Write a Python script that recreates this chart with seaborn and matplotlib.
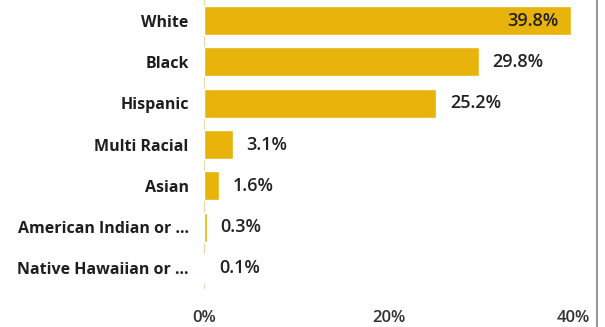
import matplotlib
matplotlib.use("Agg")
import matplotlib.pyplot as plt
import seaborn as sns
import pandas as pd

categories = ["White", "Black", "Hispanic", "Multi Racial", "Asian",
              "American Indian or ...", "Native Hawaiian or ..."]
values = [39.8, 29.8, 25.2, 3.1, 1.6, 0.3, 0.1]
value_labels = ["39.8%", "29.8%", "25.2%", "3.1%", "1.6%", "0.3%", "0.1%"]
x_ticks = [0, 20, 40]
x_tick_labels = ["0%", "20%", "40%"]

sns.set_theme(style="white")
plt.rcParams["font.family"] = ["Open Sans", "DejaVu Sans"]

df = pd.DataFrame({"cat": categories, "val": values})

fig = plt.figure(figsize=(6.05, 3.27), dpi=100)
ax = fig.add_axes([204/605, 1 - 289/327, (573-204)/605, 289/327])
sns.barplot(data=df, x="val", y="cat", orient="h", color="#E8B30A",
            saturation=1, width=0.7, ax=ax)
ax.set_xlim(0, 40)
ax.set_ylim(6.5, -0.5)
ax.set_xlabel("")
ax.set_ylabel("")
for s in ax.spines.values():
    s.set_visible(False)
ax.axvline(0, color="#E6D9B0", lw=1, zorder=0)

ax.set_xticks(x_ticks)
ax.set_xticklabels(x_tick_labels, fontsize=12, color="#333333", fontweight="semibold")
ax.tick_params(axis="x", length=0, pad=15)
ax.set_yticks(range(len(categories)))
ax.set_yticklabels(categories, fontsize=11.5, color="#1e1e1e", fontweight="bold")
ax.tick_params(axis="y", length=0, pad=11)

for i, (v, lab) in enumerate(zip(values, value_labels)):
    if v > 35:
        ax.text(v - 1.4, i, lab, ha="right", va="center", fontsize=13,
                color="#222222", fontweight="semibold")
    else:
        ax.text(v + 1.5, i, lab, ha="left", va="center", fontsize=13,
                color="#222222", fontweight="semibold")

fig.add_artist(plt.Line2D([597/605, 597/605], [0, 1], color="#999999", lw=1.5,
                          transform=fig.transFigure))

fig.savefig("out.png", dpi=100, facecolor="white")
